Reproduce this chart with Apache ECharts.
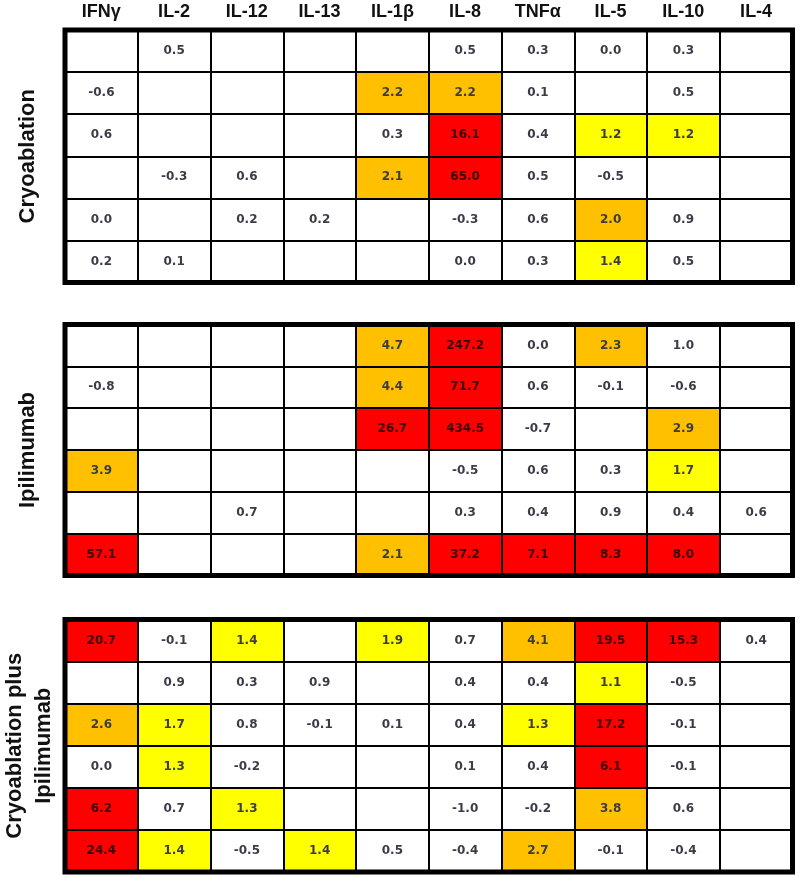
<!DOCTYPE html>
<html>
<head>
<meta charset="utf-8">
<script src="https://cdn.jsdelivr.net/npm/echarts@6/dist/echarts.min.js"></script>
<style>
html,body{margin:0;padding:0;background:#fff;}
#chart{width:800px;height:875px;}
</style>
</head>
<body>
<div id="chart"></div>
<script>
// ---- data ----
const columns = ['IFNγ', 'IL-2', 'IL-12', 'IL-13', 'IL-1β', 'IL-8', 'TNFα', 'IL-5', 'IL-10', 'IL-4'];
const rowIds = ['1', '2', '3', '4', '5', '6'];
const panelNames = ['Cryoablation', 'Ipilimumab', 'Cryoablation plus\nIpilimumab'];

const cryoRows = [
  [null, 0.5, null, null, null, 0.5, 0.3, 0.0, 0.3, null],
  [-0.6, null, null, null, 2.2, 2.2, 0.1, null, 0.5, null],
  [0.6, null, null, null, 0.3, 16.1, 0.4, 1.2, 1.2, null],
  [null, -0.3, 0.6, null, 2.1, 65.0, 0.5, -0.5, null, null],
  [0.0, null, 0.2, 0.2, null, -0.3, 0.6, 2.0, 0.9, null],
  [0.2, 0.1, null, null, null, 0.0, 0.3, 1.4, 0.5, null]
];
const ipiRows = [
  [null, null, null, null, 4.7, 247.2, 0.0, 2.3, 1.0, null],
  [-0.8, null, null, null, 4.4, 71.7, 0.6, -0.1, -0.6, null],
  [null, null, null, null, 26.7, 434.5, -0.7, null, 2.9, null],
  [3.9, null, null, null, null, -0.5, 0.6, 0.3, 1.7, null],
  [null, null, 0.7, null, null, 0.3, 0.4, 0.9, 0.4, 0.6],
  [57.1, null, null, null, 2.1, 37.2, 7.1, 8.3, 8.0, null]
];
const comboRows = [
  [20.7, -0.1, 1.4, null, 1.9, 0.7, 4.1, 19.5, 15.3, 0.4],
  [null, 0.9, 0.3, 0.9, null, 0.4, 0.4, 1.1, -0.5, null],
  [2.6, 1.7, 0.8, -0.1, 0.1, 0.4, 1.3, 17.2, -0.1, null],
  [0.0, 1.3, -0.2, null, null, 0.1, 0.4, 6.1, -0.1, null],
  [6.2, 0.7, 1.3, null, null, -1.0, -0.2, 3.8, 0.6, null],
  [24.4, 1.4, -0.5, 1.4, 0.5, -0.4, 2.7, -0.1, -0.4, null]
];
const panels = [cryoRows, ipiRows, comboRows];

// ---- layout / style ----
const gridBoxes = [
  { top: 30, height: 252.5 },
  { top: 324.5, height: 251 },
  { top: 619.5, height: 252.5 }
];
const nameGaps = [23.5, 23.5, 6.5];
const RED_AT = 4.95;

function toCells(rows) {
  const out = [];
  rows.forEach((row, y) => {
    row.forEach((v, x) => {
      if (v !== null) {
        const item = { value: [x, y, v] };
        if (v >= RED_AT) item.label = { color: '#3a0000' };
        out.push(item);
      }
    });
  });
  return out;
}

const grid = [], xAxis = [], yAxis = [], series = [];
panels.forEach((rows, i) => {
  grid.push({
    left: 65, right: 7.5, top: gridBoxes[i].top, height: gridBoxes[i].height,
    outerBoundsMode: 'none', containLabel: false,
    show: true, borderColor: '#000', borderWidth: 5,
    backgroundColor: 'rgba(0,0,0,0)', z: 6
  });
  xAxis.push({
    type: 'category', gridIndex: i, data: columns, position: 'top', z: 5,
    axisLine: { show: false }, axisTick: { show: false },
    axisLabel: {
      show: i === 0, margin: 9, color: '#111',
      fontFamily: 'Liberation Sans', fontWeight: 'bold', fontSize: 18
    },
    splitLine: { show: true, interval: 0, lineStyle: { color: '#000', width: 2 } }
  });
  yAxis.push({
    type: 'category', gridIndex: i, data: rowIds, inverse: true, z: 5,
    axisLine: { show: false }, axisTick: { show: false }, axisLabel: { show: false },
    splitLine: { show: true, interval: 0, lineStyle: { color: '#000', width: 2 } },
    name: panelNames[i], nameLocation: 'middle', nameRotate: 90, nameGap: nameGaps[i],
    nameTextStyle: {
      fontFamily: 'Liberation Sans', fontWeight: 'bold', fontSize: 22,
      color: '#111', lineHeight: i === 2 ? 29 : 28
    }
  });
  series.push({
    type: 'heatmap', xAxisIndex: i, yAxisIndex: i, z: 2,
    data: toCells(rows),
    itemStyle: { borderWidth: 0 },
    label: {
      show: true, color: '#3c3c48', fontFamily: 'DejaVu Sans', fontWeight: 'bold', fontSize: 12,
      formatter: p => p.value[2].toFixed(1)
    },
    emphasis: { disabled: true }
  });
});

const chart = echarts.init(document.getElementById('chart'), null, { renderer: 'canvas' });
chart.setOption({
  animation: false,
  backgroundColor: '#fff',
  grid, xAxis, yAxis, series,
  visualMap: {
    type: 'piecewise', show: false, seriesIndex: [0, 1, 2], dimension: 2,
    pieces: [
      { lt: 1.05, color: '#ffffff' },
      { gte: 1.05, lt: 1.95, color: '#ffff00' },
      { gte: 1.95, lt: RED_AT, color: '#ffc000' },
      { gte: RED_AT, color: '#ff0000' }
    ]
  }
});
</script>
</body>
</html>
